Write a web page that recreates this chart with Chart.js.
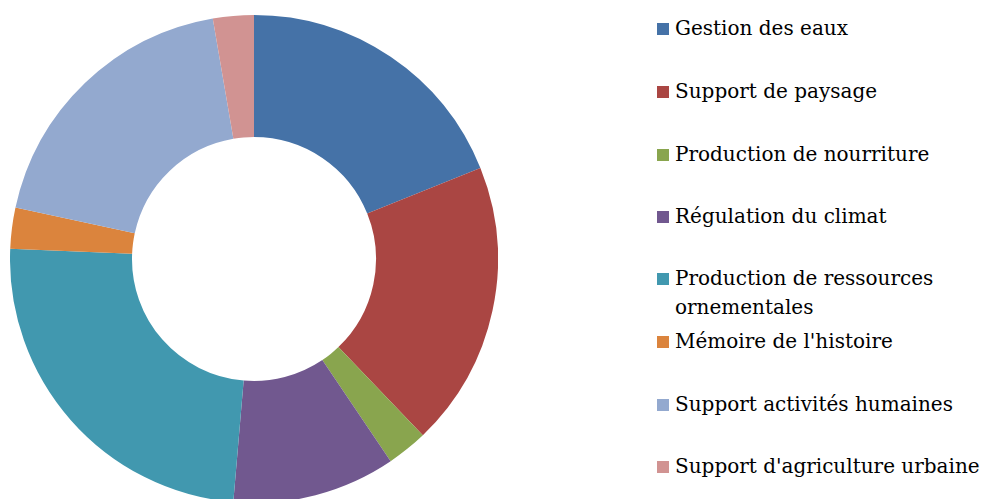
<!DOCTYPE html>
<html>
<head>
<meta charset="utf-8">
<script src="https://cdn.jsdelivr.net/npm/chart.js@4"></script>
<style>
  html, body { margin: 0; padding: 0; background: #fff; }
  body { width: 983px; height: 499px; overflow: hidden; position: relative; }
  #wrap { position: absolute; left: 10px; top: 15px; width: 488px; height: 488px; }
  #legend { position: absolute; left: 657px; top: 0; font-family: "DejaVu Serif", serif; font-size: 20px; color: #000; }
  .item { position: absolute; left: 0; white-space: nowrap; line-height: 29px; }
  .box { position: absolute; left: 0; top: 9px; width: 12px; height: 12px; }
  .txt { position: absolute; left: 18px; top: 0; }
</style>
</head>
<body>
<div id="wrap"><canvas id="myChart"></canvas></div>
<div id="legend"></div>
<script>
// data
const labels = [
  "Gestion des eaux",
  "Support de paysage",
  "Production de nourriture",
  "Régulation du climat",
  ["Production de ressources", "ornementales"],
  "Mémoire de l'histoire",
  "Support activités humaines",
  "Support d'agriculture urbaine"
];
const values = [7, 7, 1, 4, 9, 1, 7, 1];
const colors = ["#4572A7", "#AA4643", "#89A54E", "#71588F", "#4198AF", "#DB843D", "#93A9CF", "#D19392"];
const legendTops = [14, 77, 140, 202, 264, 327, 390, 452];

// chart
const ctx = document.getElementById("myChart");
const myChart = new Chart(ctx, {
  type: "doughnut",
  data: {
    labels: labels.map(l => Array.isArray(l) ? l.join(" ") : l),
    datasets: [{ data: values, backgroundColor: colors, borderWidth: 0 }]
  },
  options: {
    responsive: true,
    maintainAspectRatio: false,
    animation: false,
    cutout: "50%",
    layout: { padding: 0 },
    plugins: { legend: { display: false }, tooltip: { enabled: false } }
  }
});

// legend on the right
const legend = document.getElementById("legend");
labels.forEach((l, i) => {
  const item = document.createElement("div");
  item.className = "item";
  item.style.top = legendTops[i] + "px";
  const box = document.createElement("div");
  box.className = "box";
  box.style.background = colors[i];
  const txt = document.createElement("div");
  txt.className = "txt";
  txt.innerHTML = (Array.isArray(l) ? l : [l]).join("<br>");
  item.appendChild(box);
  item.appendChild(txt);
  legend.appendChild(item);
});
</script>
</body>
</html>
